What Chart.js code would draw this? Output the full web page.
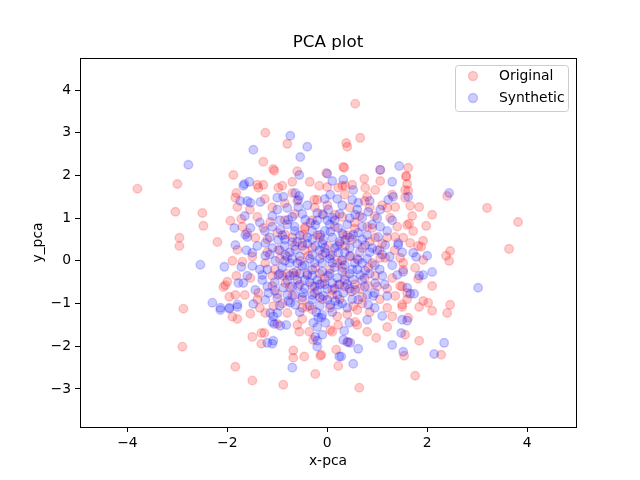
<!DOCTYPE html>
<html>
<head>
<meta charset="utf-8">
<script src="https://cdn.jsdelivr.net/npm/chart.js@4/dist/chart.umd.min.js"></script>
<style>
  body { margin: 0; background: #fff; }
</style>
</head>
<body>
<canvas id="pcaChart" width="640" height="480"></canvas>
<script>
// values (x-pca, y_pca)
const originalPoints = [
    [-3.80,1.69],[-3.00,1.80],[-3.04,1.15],[-2.96,0.54],[-2.96,0.35],[-2.50,1.12],[-2.48,0.82],[-2.20,0.44],
    [-2.88,-1.12],[-2.90,-2.01],[-1.84,-2.48],[-1.50,-2.80],[-1.88,2.01],[-1.94,0.94],[-1.72,0.98],[-1.82,1.59],
    [-1.84,1.48],[-1.80,1.26],[-1.90,0.00],[-1.82,-0.35],[-2.00,-0.49],[-2.08,-0.61],[-2.04,-0.57],[-1.96,-0.84],
    [-1.84,-0.80],[-1.90,-1.31],[-1.80,-1.36],[-1.54,-1.24],[-1.50,-1.78],[-1.32,-1.94],[-1.32,-1.69],[-1.26,-1.69],
    [-1.24,-1.22],[-1.70,-0.02],[-1.80,0.26],
    [0.56,3.68],[-1.24,3.00],[-0.80,2.74],[0.66,2.88],[0.38,2.76],[0.40,2.67],[-1.28,2.32],[-1.08,2.15],
    [-1.06,2.11],[0.32,2.20],[0.34,2.18],[1.06,2.13],[-0.60,2.10],[-0.02,2.06],[-0.70,1.85],[0.74,1.92],
    [1.06,1.87],[1.58,1.97],[1.62,2.18],[1.58,1.99],[-1.40,1.78],[-1.28,1.78],[-0.90,1.76],[-0.16,1.76],
    [0.36,1.76],[0.50,1.78],[0.76,1.71],[1.62,1.64],[1.60,1.80],
    [3.82,0.91],[3.20,1.24],[3.64,0.28],[2.40,1.52],[2.10,1.08],[1.84,1.26],[1.66,1.29],[1.64,0.87],
    [1.98,0.82],[1.72,0.70],[1.92,0.47],[1.88,0.33],[1.82,0.35],[1.66,0.42],[1.92,0.02],[2.46,0.23],
    [2.38,0.12],[2.44,0.00],[1.76,-0.16],[1.82,-0.42],[2.10,-0.59],[1.60,-0.90],[1.92,-0.94],[2.02,-0.98],
    [2.46,-1.03],[1.84,-1.08],[2.10,-1.17],[2.40,-1.22],[1.62,-1.33],[1.56,-1.73],[1.84,-1.87],[2.28,-2.20],
    [1.54,-2.22],[1.76,-2.69],[1.52,-0.05],[1.50,-0.60],
    [-0.88,-2.90],[-0.24,-2.65],[0.64,-2.97],[-0.68,-2.10],[-0.68,-2.27],[-0.46,-2.24],[-0.14,-2.22],[-0.12,-2.20],
    [0.22,-2.46],[0.18,-2.08],[0.42,-1.90],[0.98,-1.80],[0.80,-1.66],[1.20,-1.55],[-0.56,-1.66],[-0.50,-1.36],
    [-0.36,-1.66],[-0.28,-1.85],[0.06,-1.62],[0.10,-1.66],[0.22,-1.50],[0.60,-1.50],[0.56,-1.43],[-0.80,-1.22],
    [-1.00,-1.48],[-1.08,-1.06],[0.52,-1.06],[0.60,-1.15],[1.50,-1.02],[1.20,-1.10],[0.40,-1.25],[-0.40,-1.08],
    [-0.30,-1.14],[1.50,-1.08],
    [-1.38,1.71],[-0.98,1.71],[-0.70,1.59],[-0.20,1.43],[-0.26,1.43],[0.00,1.73],[-1.40,1.03],[-1.14,0.91],
    [-0.44,0.80],[-1.28,0.77],[-0.84,0.61],[-0.48,0.61],[-1.00,0.66],[-1.60,0.66],[-1.44,0.54],[-0.50,0.42],
    [0.22,1.71],[0.30,1.76],[0.96,1.66],[1.56,1.66],[0.80,1.50],[1.56,1.48],[1.36,1.26],[1.20,1.24],
    [1.26,1.01],[1.60,0.84],[0.90,0.77],[0.80,0.80],[1.36,0.56],[1.52,0.54],[0.16,1.08],[0.30,1.03],
    [0.32,0.61],[0.96,0.54],
    [-1.54,-0.40],[-1.10,-0.59],[-0.84,-0.52],[-0.54,0.00],[-0.38,0.12],[-0.30,-0.59],[-0.70,-0.82],[-1.38,-0.75],
    [-1.24,-0.05],[-0.98,0.26],[-0.24,-0.16],[-0.50,-0.91],[-0.90,-0.35],[-0.10,-0.52],
    [0.02,0.35],[0.36,0.35],[0.70,0.30],[1.16,0.07],[1.46,0.07],[1.52,-0.21],[0.96,-0.35],[1.30,-0.40],
    [1.46,-0.59],[1.60,-0.75],[0.82,-0.59],[0.22,-0.56],[0.10,-0.68],[0.36,-0.35],[1.36,-0.82],[1.06,0.07],
    [0.82,-0.16],
    [0.28,0.02],[0.05,-0.20],[-0.15,0.55],[0.55,0.90],[-0.65,1.10],[0.45,1.25],[-1.10,1.25],[1.10,0.40],
    [0.70,-0.85],[-0.10,-0.90],[-1.20,0.20],[-0.62,-0.25],[0.15,0.80],[0.95,1.05],[-0.35,1.85],[1.20,-0.65],
    [-1.50,0.10],[-0.75,-0.62],[0.60,0.05],[0.48,-0.72],[1.30,1.55],[-1.00,-0.78],[0.00,1.30],[0.85,1.25],
    [-0.30,0.95],[1.40,0.80],[-1.25,1.45],[0.50,0.50],[-0.05,-0.40],[1.05,-0.90],[-0.85,0.95],[0.25,-0.90],
    [0.70,-1.00],[-0.60,1.40],[1.35,0.25],
    [-0.80,0.10],[-0.45,0.25],[-0.20,0.60],[0.10,0.15],[0.40,0.60],[0.75,-0.40],[0.55,-0.55],[-0.25,-0.75],
    [-0.55,-0.55],[-1.05,-0.20],[-1.20,0.50],[-0.65,0.35],[0.85,0.45],[1.20,0.55],[0.30,-0.15],[-0.10,0.15],
    [0.65,1.05],[-0.40,-0.30],[1.00,-0.60],[0.05,-1.10],[-0.90,-1.00],[1.10,1.30],[-0.10,1.10],[-1.55,1.20],
    [0.35,1.55],[-0.85,1.35],[-1.35,-1.10],[1.30,-1.30],[-0.60,-1.50],[0.85,-1.20],[0.20,-1.30],[-1.65,-0.80],
    [-1.40,-0.90],[1.70,1.05],[-1.70,0.80],
    [-0.30,0.30],[0.20,-0.05],[0.45,0.10],[-0.65,-0.35],[-0.95,0.05],[0.65,-0.65],[-0.15,-0.30],[0.90,-0.05],
    [-0.45,0.75],[0.25,0.40],[-0.80,-0.30],[0.10,-0.80],[0.55,0.75],[-1.10,-0.35],[1.05,0.25],[-0.25,1.25],
    [0.75,1.40],[-0.50,-1.10],[0.35,-0.60],[-0.70,0.55]
];

const syntheticPoints = [
    [-2.78,2.25],[-1.68,1.76],[-1.48,2.60],[-0.74,2.93],[-0.40,2.67],[-0.54,2.43],[1.44,2.22],[1.06,2.13],
    [-0.56,2.01],[0.00,2.04],[0.10,1.87],[0.32,1.90],[1.30,1.85],[-1.56,1.85],[-1.66,1.80],[2.44,1.59],
    [1.62,1.50],[-1.74,1.40],[-1.60,1.40],[-1.64,0.61],[-1.86,0.77],[-1.84,0.37],[-1.62,0.25],[-2.54,-0.09],
    [-2.06,-0.14],[-1.72,-0.14],[-1.78,-0.52],[-1.68,-0.52],[-2.30,-0.98],[-2.14,-1.10],[-1.96,-1.10],[-1.80,-1.02],
    [-1.80,-1.08],[-2.14,-1.15],[-1.96,-1.12],[3.02,-0.63],[1.72,0.19],[1.78,0.09],[2.00,0.12],[2.10,-0.26],
    [1.92,-0.33],[1.84,-0.35],[1.52,-0.26],[1.60,-0.63],[1.66,-0.77],[1.74,-0.77],[1.60,-1.40],[1.48,-1.69],
    [2.34,-1.92],[2.14,-2.18],[1.52,-2.13],[1.30,-1.97],[1.10,-1.29],[1.50,-1.38],[0.62,-2.06],[0.46,-1.92],
    [0.40,-1.90],[0.32,-1.85],[0.24,-2.24],[0.28,-2.24],[0.52,-2.41],[-0.20,-2.01],[-0.70,-2.50],[-1.48,-1.01],
    [-1.20,-1.92],[-1.10,-1.94],[-1.08,-1.87],[-1.14,-1.22],[-1.08,-1.30],[-1.00,-1.22],[-1.06,-1.48],[-0.94,-1.52],
    [-0.82,-1.50],[-1.10,-1.43],[-0.28,-1.45],[-0.20,-1.55],[-0.24,-1.78],[-0.20,-1.87],[-0.10,-1.73],[-0.22,-1.20],
    [-0.10,-1.26],[-0.04,-1.45],[0.34,-1.64],[0.44,-1.45],[0.80,-1.38],[0.82,-1.03],[0.06,-1.03],[0.22,-1.03],
    [-0.74,-0.98],[-0.64,-1.03],[-0.12,-1.33],[-0.18,-1.33],
    [-1.54,1.36],[-1.34,1.38],[-1.00,1.48],[-0.88,1.50],[-0.64,1.59],[-0.58,1.43],[-0.56,1.52],[-0.80,1.24],
    [-0.58,1.26],[-0.20,1.12],[-0.08,1.08],[-0.70,1.03],[-0.78,0.96],[-0.44,0.96],[-0.34,0.89],[-0.24,0.84],
    [-1.54,0.77],[-1.60,0.56],[-1.10,0.80],[-0.94,0.73],[-0.98,0.49],[-0.70,0.44],[-0.14,0.61],[-0.08,0.49],
    [-1.24,0.42],
    [0.06,1.55],[0.52,1.66],[0.50,1.43],[0.62,1.36],[1.22,1.43],[1.32,1.50],[0.82,1.15],[1.06,1.20],
    [0.02,1.20],[0.56,1.08],[0.70,1.01],[1.06,0.80],[0.10,1.01],[0.22,0.77],[0.06,0.68],[0.52,0.61],
    [0.62,0.66],[1.02,0.56],[1.42,0.42],[0.36,0.49],
    [-1.50,0.19],[-1.50,-0.12],[-1.30,-0.33],[-1.24,0.12],[-1.04,0.00],[-0.84,0.14],[-0.64,0.26],[-0.50,-0.12],
    [-0.68,-0.28],[-0.98,-0.33],[-0.40,-0.33],[-0.30,-0.21],[-0.10,-0.05],[-0.04,0.19],[-1.44,-0.68],[-1.18,-0.75],
    [-1.00,-0.87],[-0.88,-0.63],[-0.58,-0.59],[-0.48,-0.75],[-0.20,-0.70],[-0.08,-0.82],[-0.30,-0.91],[-0.78,-0.94],
    [-1.24,-0.91],[-0.24,0.35],[-0.50,0.35],
    [0.06,0.12],[0.22,0.19],[0.46,0.12],[0.62,0.02],[0.76,-0.23],[0.66,-0.33],[0.52,-0.44],[0.02,-0.35],
    [0.10,-0.52],[0.32,-0.75],[0.56,-0.68],[0.96,-0.52],[1.10,-0.35],[1.40,-0.33],[0.92,-0.82],[1.20,-0.82],
    [1.16,0.37],[1.42,0.37],[0.76,0.37],[0.00,-0.91],[0.16,-0.94],[0.62,-0.91],
    [-0.35,0.05],[-0.20,-0.45],[0.15,-0.15],[0.35,-0.10],[-0.55,0.60],[-0.85,0.35],[0.25,0.45],[0.40,0.85],
    [-0.40,1.30],[-1.10,1.05],[0.85,0.20],[-0.75,-0.05],[-1.35,-0.20],[-0.15,0.25],[0.45,-0.30],[0.80,0.60],
    [-0.60,-0.45],[0.20,-0.40],[-0.90,-0.15],[1.25,0.10],[-1.15,0.55],[0.05,0.85],[0.60,1.20],[-0.30,0.70],
    [0.95,-0.10],[-0.45,-0.65],[0.30,1.30],[-1.35,0.90],[0.75,-0.60],[-0.05,1.45],[1.00,1.00],[-0.65,0.80],
    [0.15,0.30],[-0.25,-0.05],[0.50,-0.90],[-1.00,1.20],
    [-0.95,0.25],[-0.75,0.20],[-0.55,0.10],[-0.30,0.15],[-0.10,0.40],[0.10,0.55],[0.30,0.65],[0.45,0.30],
    [0.65,0.20],[0.90,0.30],[1.10,0.15],[0.85,-0.30],[0.60,-0.20],[0.40,-0.55],[0.15,-0.65],[-0.10,-0.25],
    [-0.35,-0.50],[-0.55,-0.30],[-0.80,-0.45],[-1.05,-0.50],[-1.20,-0.20],[-1.10,0.30],[-0.90,0.60],[-0.65,0.70],
    [-0.40,0.55],[-0.20,0.95],[0.00,0.95],[0.25,1.10],[0.45,1.00],[0.70,0.80],[0.90,0.85],[1.20,0.70],
    [1.30,-0.10],[1.15,-0.55],[0.80,-0.80],[0.40,-1.10],[0.00,-0.65],[-0.30,-0.80],[-0.65,-0.80],[-0.95,-1.05],
    [-1.30,-0.45],[-1.40,0.35],[-1.25,0.70],[-0.95,0.95],[-0.50,1.10],[0.20,1.45],[0.85,1.40],[-0.15,-1.05],
    [0.30,-0.25],[0.55,-0.05],[-0.45,-0.10],[-0.70,0.05],[0.05,0.05],[0.30,0.00],[-0.15,-0.55],[0.70,0.50],
    [-0.80,0.85],[1.00,0.25],[-1.20,-0.60],[0.10,-1.20],[0.95,-1.10],[-0.55,-1.20],[-1.60,-0.35],[1.50,0.20],
    [1.30,0.95],[-1.65,1.05],
    [-0.60,-0.05],[-0.40,0.40],[-0.15,0.05],[0.10,-0.05],[0.35,0.20],[0.50,-0.20],[0.70,-0.05],[0.25,-0.55],
    [-0.05,-0.55],[-0.30,-0.35],[-0.70,-0.60],[-0.95,-0.30],[-0.85,0.00],[-0.50,-0.85],[-0.15,-0.85],[0.20,-0.80],
    [0.45,-0.65],[0.70,-0.45],[0.95,-0.75],[-0.05,0.30],[0.20,0.35],[-0.30,0.50],[-0.60,0.45],[-0.85,0.50],
    [0.60,0.40],[0.45,0.55],[0.05,-0.30],[-0.45,-0.45],[-0.75,-0.35],[-1.05,-0.70],[0.35,-0.45],[0.80,0.05],
    [-0.25,-0.60],[-0.05,0.70],[0.15,0.95],[-0.35,-1.05],[0.30,-1.00],[-0.80,-0.80],[1.05,-0.20],[-1.15,0.15]
];

const xTicks = [-4, -2, 0, 2, 4];
const yTicks = [-3, -2, -1, 0, 1, 2, 3, 4];
const seriesNames = ["Original", "Synthetic"];

const FONT = "DejaVu Sans";
const RED = "rgba(255, 0, 0, 0.2)";
const BLUE = "rgba(0, 0, 255, 0.2)";

function minusLabel(v) {
    return v < 0 ? "\u2212" + Math.abs(v) : String(v);
}

// box around the plot, like matplotlib spines
const framePlugin = {
    id: "frame",
    afterDatasetsDraw(chart) {
        const { ctx, chartArea: a } = chart;
        ctx.save();
        ctx.strokeStyle = "#000";
        ctx.lineWidth = 1;
        ctx.strokeRect(Math.round(a.left) + 0.5, Math.round(a.top) + 0.5,
            Math.round(a.right - a.left), Math.round(a.bottom - a.top));
        ctx.restore();
    }
};

// legend inside the upper right corner, with a rounded frame
const cornerLegend = {
    id: "cornerLegend",
    afterDraw(chart) {
        const { ctx, chartArea: a } = chart;
        const x0 = a.right - 121, y0 = a.top + 7, w = 113, h = 46;
        ctx.save();
        ctx.beginPath();
        ctx.roundRect(x0 + 0.5, y0 + 0.5, w, h, 3);
        ctx.fillStyle = "rgba(255,255,255,0.8)";
        ctx.fill();
        ctx.strokeStyle = "#cccccc";
        ctx.lineWidth = 1;
        ctx.stroke();
        const colors = [RED, BLUE];
        seriesNames.forEach((name, i) => {
            const cy = y0 + 11 + i * 22;
            ctx.beginPath();
            ctx.arc(x0 + 18, cy, 4.5, 0, Math.PI * 2);
            ctx.fillStyle = colors[i];
            ctx.fill();
            ctx.lineWidth = 1.4;
            ctx.strokeStyle = colors[i];
            ctx.stroke();
            ctx.fillStyle = "#000";
            ctx.font = "13.9px '" + FONT + "'";
            ctx.textBaseline = "middle";
            ctx.textAlign = "left";
            ctx.fillText(name, x0 + 44, cy);
        });
        ctx.restore();
    }
};

const ctx = document.getElementById("pcaChart").getContext("2d");

new Chart(ctx, {
    type: "scatter",
    data: {
        datasets: [
            {
                label: seriesNames[0],
                data: originalPoints.map(p => ({ x: p[0], y: p[1] })),
                backgroundColor: RED,
                borderColor: RED,
                borderWidth: 1.4,
                pointRadius: 4.3,
                order: 1
            },
            {
                label: seriesNames[1],
                data: syntheticPoints.map(p => ({ x: p[0], y: p[1] })),
                backgroundColor: BLUE,
                borderColor: BLUE,
                borderWidth: 1.4,
                pointRadius: 4.3,
                order: 0
            }
        ]
    },
    options: {
        responsive: false,
        animation: false,
        layout: { padding: { left: 0, right: 64, top: 0, bottom: 0 } },
        plugins: {
            legend: { display: false },
            tooltip: { enabled: false }
        },
        scales: {
            x: {
                type: "linear",
                min: -4.95,
                max: 4.98,
                afterBuildTicks: s => { s.ticks = xTicks.map(v => ({ value: v })); },
                afterFit: s => { s.height = 53; },
                ticks: {
                    color: "#000",
                    font: { family: FONT, size: 13.9 },
                    padding: 3,
                    maxRotation: 0,
                    callback: v => minusLabel(v)
                },
                grid: { drawOnChartArea: false, tickLength: 5, tickColor: "#000" },
                border: { color: "#000" },
                title: {
                    display: true,
                    text: "x-pca",
                    color: "#000",
                    font: { family: FONT, size: 13.9 },
                    padding: { top: 0, bottom: 10.7 }
                }
            },
            // top axis only carries the plot title, centred over the axes like matplotlib
            top: {
                type: "linear",
                position: "top",
                min: -4.95,
                max: 4.98,
                afterFit: s => { s.height = 58; },
                ticks: { display: false },
                grid: { display: false },
                border: { display: false },
                title: {
                    display: true,
                    text: "PCA plot",
                    color: "#000",
                    font: { family: FONT, size: 16.7 },
                    padding: { top: 33, bottom: 0 }
                }
            },
            y: {
                type: "linear",
                min: -3.89,
                max: 4.75,
                afterBuildTicks: s => { s.ticks = yTicks.map(v => ({ value: v })); },
                afterFit: s => { s.width = 80; },
                ticks: {
                    color: "#000",
                    font: { family: FONT, size: 13.9 },
                    padding: 4,
                    callback: v => minusLabel(v)
                },
                grid: { drawOnChartArea: false, tickLength: 5, tickColor: "#000" },
                border: { color: "#000" },
                title: {
                    display: true,
                    text: "y_pca",
                    color: "#000",
                    font: { family: FONT, size: 13.9 },
                    padding: { top: 29.7, bottom: 0 }
                }
            }
        }
    },
    plugins: [framePlugin, cornerLegend]
});
</script>
</body>
</html>
